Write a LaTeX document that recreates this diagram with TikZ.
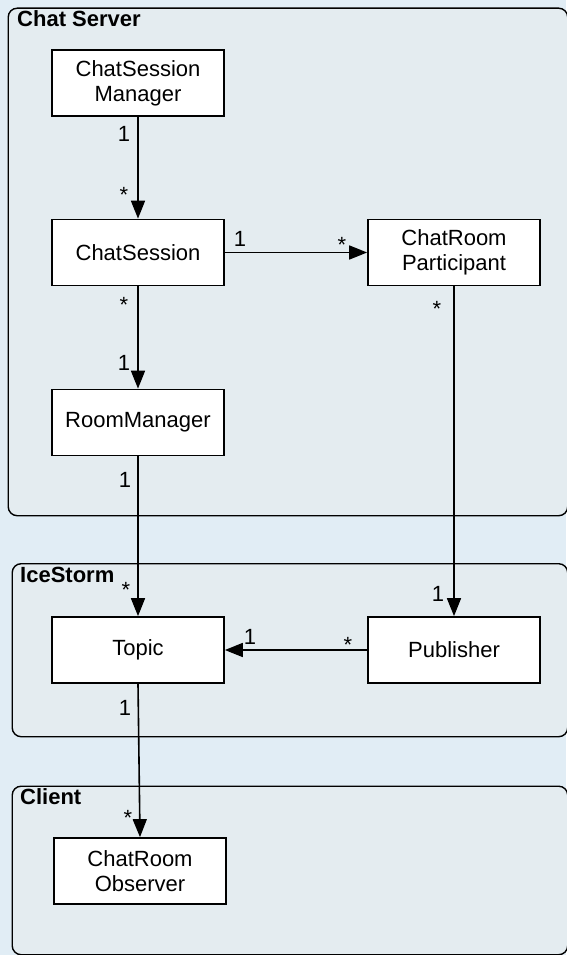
\documentclass[tikz,border=0pt]{standalone}
\usepackage{fontspec}
\setmainfont{Liberation Sans}
\usetikzlibrary{arrows.meta}
\definecolor{bgc}{RGB}{225,237,245}
\definecolor{pkgc}{RGB}{228,236,240}
\begin{document}
\begin{tikzpicture}[x=1pt,y=-1pt,
  cls/.style={draw=black,fill=white,line width=1.7pt,minimum width=172pt,minimum height=66pt,inner sep=0pt,align=center,font=\fontsize{22}{25}\selectfont},
  pkg/.style={draw=black,fill=pkgc,line width=1.4pt,rounded corners=9pt,anchor=north west,inner sep=0pt},
  pkglabel/.style={anchor=base west,font=\fontsize{22}{24}\selectfont\bfseries,inner sep=0pt},
  mult/.style={anchor=base,font=\fontsize{22}{24}\selectfont,inner sep=0pt},
  assoc/.style={line width=1.6pt,-{Triangle[length=18pt,width=14pt]}},
]
\useasboundingbox[fill=bgc] (0,0) rectangle (566,955);
% packages
\node[pkg,minimum width=559.5pt,minimum height=507.5pt] (server) at (7.5,7.5) {};
\node[pkg,minimum width=555.5pt,minimum height=173pt] (ice) at (11.5,563) {};
\node[pkg,minimum width=555.5pt,minimum height=168.5pt] (client) at (11.5,785.5) {};
\node[pkglabel] (serverlbl) at (17,27) {Chat Server};
\node[pkglabel] (icelbl) at (20,582) {IceStorm};
\node[pkglabel] (clientlbl) at (20,804) {Client};
% classes
\node[cls] (csm) at (138,83) {ChatSession\\Manager};
\node[cls] (cs) at (138,252.5) {ChatSession};
\node[cls] (crp) at (454,252.5) {ChatRoom\\Participant};
\node[cls] (rm) at (138,422.5) {RoomManager};
\node[cls] (topic) at (138,650) {Topic};
\node[cls] (pub) at (454,650) {Publisher};
\node[cls] (obs) at (140,871) {ChatRoom\\Observer};
% associations
\draw[assoc] (csm.south) -- (cs.north);
\draw[assoc] (cs.east) -- (crp.west);
\draw[assoc] (cs.south) -- (rm.north);
\draw[assoc] (crp.south) -- (pub.north);
\draw[assoc] (rm.south) -- (topic.north);
\draw[assoc] (pub.west) -- (topic.east);
\draw[assoc] (topic.south) -- (obs.north);
% multiplicities
\node[mult] (m1) at (124,141) {1};
\node[mult] (m2) at (124,202) {*};
\node[mult] (m3) at (240,246) {1};
\node[mult] (m4) at (342,252) {*};
\node[mult] (m5) at (124,312) {*};
\node[mult] (m6) at (124,370) {1};
\node[mult] (m7) at (437,316) {*};
\node[mult] (m8) at (125,487) {1};
\node[mult] (m9) at (126,597) {*};
\node[mult] (m10) at (438,601) {1};
\node[mult] (m11) at (250,644) {1};
\node[mult] (m12) at (348,652) {*};
\node[mult] (m13) at (125,715) {1};
\node[mult] (m14) at (128,825) {*};
\end{tikzpicture}
\end{document}
